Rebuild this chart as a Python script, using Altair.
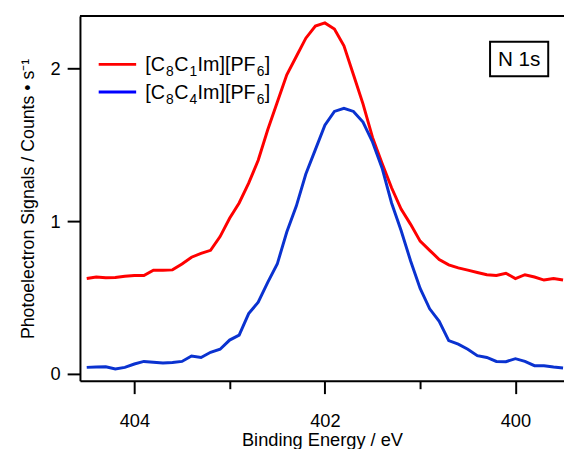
import altair as alt
import pandas as pd

# Binding energy (eV)
energy = [404.5, 404.4, 404.3, 404.2, 404.1, 404.0, 403.9, 403.8, 403.7, 403.6,
          403.5, 403.4, 403.3, 403.2, 403.1, 403.0, 402.9, 402.8, 402.7, 402.6,
          402.5, 402.4, 402.3, 402.2, 402.1, 402.0, 401.9, 401.8, 401.7, 401.6,
          401.5, 401.4, 401.3, 401.2, 401.1, 401.0, 400.9, 400.8, 400.7, 400.6,
          400.5, 400.4, 400.3, 400.2, 400.1, 400.0, 399.9, 399.8, 399.7, 399.6,
          399.5]

c8c1 = [0.625, 0.635, 0.630, 0.632, 0.640, 0.645, 0.645, 0.680, 0.680, 0.682,
        0.720, 0.765, 0.790, 0.810, 0.900, 1.020, 1.120, 1.250, 1.400, 1.600,
        1.780, 1.960, 2.080, 2.200, 2.280, 2.300, 2.260, 2.150, 1.960, 1.770,
        1.550, 1.380, 1.220, 1.080, 0.980, 0.870, 0.810, 0.750, 0.715, 0.695,
        0.680, 0.665, 0.650, 0.645, 0.660, 0.625, 0.650, 0.635, 0.615, 0.625,
        0.615]

c8c4 = [0.043, 0.046, 0.047, 0.032, 0.043, 0.065, 0.082, 0.077, 0.072, 0.075,
        0.082, 0.118, 0.108, 0.142, 0.162, 0.222, 0.254, 0.395, 0.470, 0.600,
        0.720, 0.930, 1.100, 1.310, 1.470, 1.630, 1.720, 1.740, 1.720, 1.650,
        1.520, 1.350, 1.120, 0.940, 0.740, 0.560, 0.427, 0.345, 0.218, 0.195,
        0.162, 0.120, 0.108, 0.082, 0.080, 0.100, 0.082, 0.054, 0.054, 0.045,
        0.039]

series_names = ["[C8C1Im][PF6]", "[C8C4Im][PF6]"]
# legend label pieces: (text, is_subscript)
legend_pieces = [
    [("[C", False), ("8", True), ("C", False), ("1", True), ("Im][PF", False), ("6", True), ("]", False)],
    [("[C", False), ("8", True), ("C", False), ("4", True), ("Im][PF", False), ("6", True), ("]", False)],
]
series_colors = ["#ff0000", "#0a32d0"]
legend_colors = ["#ff0000", "#0000ff"]

x_ticks = [404, 403, 402, 401, 400]
y_ticks = [0, 0.5, 1, 1.5, 2]

FONT = "Liberation Sans"
W, H = 491, 370
MAIN_FS, SUB_FS = 20, 14
# approximate Arial advance widths (em)
ADV = {"[": 0.278, "]": 0.278, "C": 0.722, "I": 0.278, "m": 0.833,
       "P": 0.667, "F": 0.611}

df = pd.DataFrame({
    "E": energy * 2,
    "I": c8c1 + c8c4,
    "series": [series_names[0]] * len(energy) + [series_names[1]] * len(energy),
})

x_axis = alt.Axis(
    values=x_ticks, format="d",
    labelExpr="datum.value % 2 == 0 ? datum.label : ''",
    tickSize={"condition": {"test": "datum.value % 2 == 0", "value": 13}, "value": 8},
    tickWidth=2, tickColor="black", domainWidth=2, domainColor="black",
    labelFont=FONT, labelFontSize=18.5, labelColor="black", labelPadding=18,
    title="Binding Energy / eV", titleFont=FONT, titleFontSize=18.5,
    titleFontWeight="normal", titleColor="black", titlePadding=1, grid=False,
)
y_axis = alt.Axis(
    values=y_ticks, format="d",
    labelExpr="datum.value % 1 == 0 ? datum.label : ''",
    tickSize={"condition": {"test": "datum.value % 1 == 0", "value": 13}, "value": 8},
    tickWidth=2, tickColor="black", domainWidth=2, domainColor="black",
    labelFont=FONT, labelFontSize=18.5, labelColor="black", labelPadding=7,
    title="Photoelectron Signals / Counts • s⁻¹", titleFont=FONT, titleFontSize=18,
    titleFontWeight="normal", titleColor="black", titlePadding=13, grid=False,
)

lines = alt.Chart(df).mark_line(strokeWidth=3, clip=True).encode(
    x=alt.X("E:Q", scale=alt.Scale(domain=[404.571, 399.49], nice=False, zero=False), axis=x_axis),
    y=alt.Y("I:Q", scale=alt.Scale(domain=[-0.045, 2.345], nice=False, zero=False), axis=y_axis),
    color=alt.Color("series:N", scale=alt.Scale(domain=series_names, range=series_colors), legend=None),
    detail="series:N",
)

top_line = alt.Chart().mark_rule(color="black", strokeWidth=2).encode(
    x=alt.value(0), x2=alt.value(W), y=alt.value(0)
)

leg_layers = []
for i, (pieces, col) in enumerate(zip(legend_pieces, legend_colors)):
    ly = 49 + 28 * i
    leg_layers.append(alt.Chart().mark_rule(color=col, strokeWidth=3).encode(
        x=alt.value(19), x2=alt.value(57), y=alt.value(ly)))
    xpos = 66.3
    for txt, sub in pieces:
        fs = SUB_FS if sub else MAIN_FS
        if sub:
            xpos += 1
        leg_layers.append(alt.Chart().mark_text(
            text=txt, font=FONT, fontSize=fs, color="black", align="left",
            baseline="alphabetic"
        ).encode(x=alt.value(xpos), y=alt.value(ly + 7 + (5 if sub else 0))))
        if sub:
            xpos += 0.556 * fs + 0.5
        else:
            xpos += sum(ADV[c] for c in txt) * fs

box = alt.Chart().mark_rect(fill="white", stroke="black", strokeWidth=2).encode(
    x=alt.value(416), x2=alt.value(475), y=alt.value(26), y2=alt.value(61)
)
box_text = alt.Chart().mark_text(
    text="N 1s", font=FONT, fontSize=21, color="black", align="center", baseline="alphabetic"
).encode(x=alt.value(445.5), y=alt.value(51))

chart = alt.layer(lines, top_line, *leg_layers, box, box_text).properties(
    width=W, height=H,
    autosize=alt.AutoSizeParams(type="none"),
    padding={"left": 73, "top": 5, "right": 0, "bottom": 66},
).configure_view(stroke=None).configure(background="white")

chart.save("out.html", embed_options={"renderer": "svg", "actions": False})
